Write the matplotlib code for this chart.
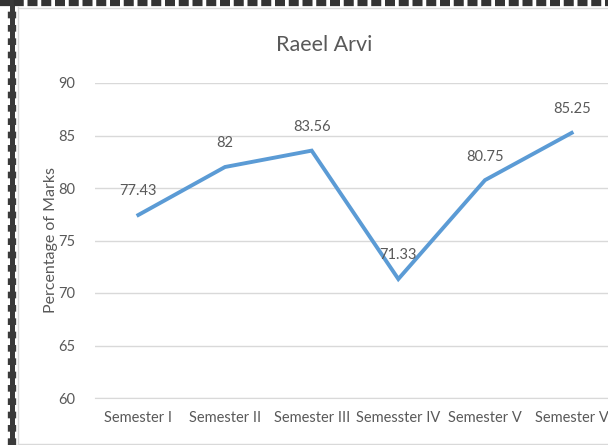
import matplotlib.pyplot as plt
from matplotlib.lines import Line2D

semesters = ['Semester I', 'Semester II', 'Semester III', 'Semesster IV', 'Semester V', 'Semester V']
marks = [77.43, 82, 83.56, 71.33, 80.75, 85.25]
mark_labels = ['77.43', '82', '83.56', '71.33', '80.75', '85.25']
y_ticks = [60, 65, 70, 75, 80, 85, 90]

plt.rcParams['font.family'] = ['Lato', 'DejaVu Sans']
grey = '#595959'

fig = plt.figure(figsize=(6.08, 4.45), dpi=100)
ax = fig.add_axes([95 / 608, 1 - 398 / 445, 520 / 608, 315 / 445])

x = range(len(marks))
ax.plot(x, marks, color='#5B9BD5', linewidth=2.8, solid_joinstyle='miter')
for i, (v, lab) in enumerate(zip(marks, mark_labels)):
    ax.annotate(lab, (i, v), xytext=(0, 17), textcoords='offset points',
                ha='center', va='center', fontsize=10.5, color=grey)

ax.set_xlim(-0.5, len(marks) - 0.5)
ax.set_ylim(60, 90)
ax.set_yticks(y_ticks)
ax.set_xticks(list(x))
ax.set_xticklabels(semesters)
ax.grid(axis='y', color='#D9D9D9', linewidth=1)
ax.set_axisbelow(True)
for s in ['top', 'right', 'left']:
    ax.spines[s].set_visible(False)
ax.spines['bottom'].set_color('#D9D9D9')
ax.tick_params(length=0, colors=grey, labelsize=10.5)
ax.tick_params(axis='y', pad=14)
ax.tick_params(axis='x', pad=9)

ax.set_ylabel('Percentage of Marks', fontsize=11.5, color=grey)
ax.yaxis.set_label_coords(-0.072, (398 - 240) / 315)
fig.text(324 / 608, 1 - 45 / 445, 'Raeel Arvi', ha='center', va='center',
         fontsize=15.5, color=grey)

# screenshot frame: light chart border and dashed selection border
fig.add_artist(Line2D([18 / 608, 18 / 608], [0, 1 - 7 / 445], color='#D9D9D9', linewidth=1))
fig.add_artist(Line2D([18 / 608, 1], [1 - 8 / 445, 1 - 8 / 445], color='#D9D9D9', linewidth=1))
fig.add_artist(Line2D([18 / 608, 1], [1 / 445, 1 / 445], color='#D9D9D9', linewidth=1))
fig.add_artist(Line2D([12 / 608, 12 / 608], [0, 1], color='#3a3a3a', linewidth=3.6))
fig.add_artist(Line2D([12 / 608, 12 / 608], [0, 1], color='#3a3a3a', linewidth=6,
                      linestyle=(0, (0.8, 0.8))))
fig.add_artist(Line2D([0, 1], [1 - 3 / 445, 1 - 3 / 445], color='#333333', linewidth=4.5,
                      linestyle=(0, (1.6, 0.6))))

fig.savefig('out.png', dpi=100)
